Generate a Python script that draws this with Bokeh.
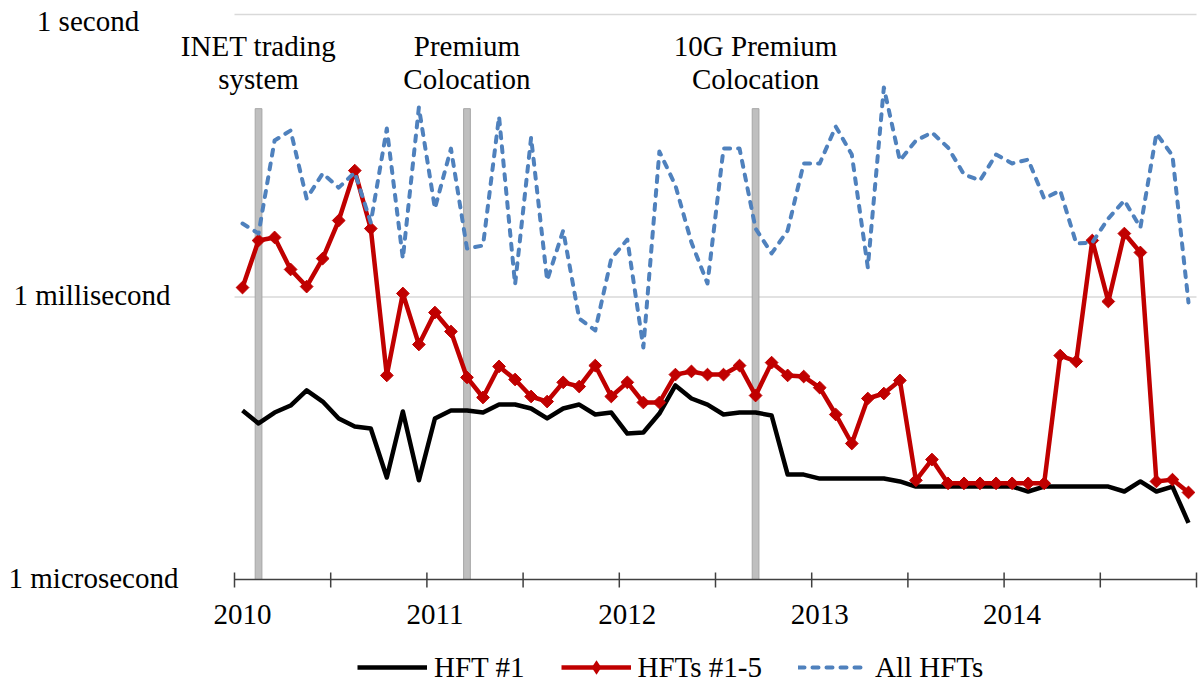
import numpy as np
from bokeh.plotting import figure
from bokeh.models import Range1d, Legend, LegendItem, ColumnDataSource
from bokeh.core.properties import value
from bokeh.embed import file_html
from bokeh.resources import INLINE

# ---------------- data (latency, microseconds; one value per month Jan 2010 .. Dec 2014)
year_labels = ["2010", "2011", "2012", "2013", "2014"]

hft1 = [62.3, 45.4, 59.3, 70.4, 102, 77.6, 51.3, 42.2, 40.1, 12.1,
        60.8, 11.3, 51.3, 62.3, 62.3, 59.3, 72.1, 72.1, 65.5, 51.3,
        65.5, 72.1, 56.5, 59.3, 35.5, 36.4, 57.9, 115, 83.6, 72.1,
        56.5, 59.3, 59.3, 55.2, 13.0, 13.0, 11.8, 11.8, 11.8, 11.8,
        11.8, 11.0, 9.7, 9.7, 9.7, 9.7, 9.7, 9.7, 9.7, 8.6,
        9.7, 9.7, 9.7, 9.7, 9.7, 8.6, 11.0, 8.6, 9.7, 4.0]

hft1_5 = [1260, 3980, 4290, 1960, 1290, 2560, 6490, 22000, 5330, 147,
          1090, 313, 684, 430, 140, 85.7, 183, 133, 87.8, 77.6,
          124, 112, 187, 87.8, 124, 75.8, 75.8, 150, 162, 150,
          150, 187, 89.9, 201, 147, 143, 109, 56.5, 27.8, 83.6,
          94.4, 130, 11.3, 18.8, 10.5, 10.5, 10.5, 10.5, 10.5, 10.5,
          10.5, 239, 207, 3980, 896, 4720, 2970, 11.0, 11.5, 8.4]

all_hfts = [6030, 4720, 45900, 58600, 11100, 20500, 14500, 21000, 6180, 61500,
            2560, 103000, 8710, 37700, 3270, 3520, 82600, 1360, 49400, 1500,
            5080, 591, 441, 2560, 4080, 291, 35100, 15300, 3790, 1390,
            37700, 37700, 5330, 2900, 5080, 26200, 26200, 64600, 32600, 2060,
            168000, 28100, 45900, 55800, 38700, 20000, 17300, 32600, 26200, 28800,
            11100, 13500, 3700, 3790, 6810, 10600, 5470, 54500, 31800, 875]

event_months = [1, 14, 32]              # Feb 2010, Mar 2011, Sep 2012
event_lines = [["INET trading", "system"],
               ["Premium", "Colocation"],
               ["10G Premium", "Colocation"]]
event_bar_top = 1e5                     # 0.1 second

y_tick_values = [1, 1e3, 1e6]
y_tick_labels = ["1 microsecond", "1 millisecond", "1 second"]
grid_values = [1e3, 1e6]

n = len(hft1)
x = [i + 0.5 for i in range(n)]

# ---------------- layout (pixel geometry of the plot area)
W, H = 1198, 683
PL, PT, PR, PB = 234, 14, 1196, 579     # plot area: left/top/right/bottom
PPM = (PR - PL) / 60.0                  # px per month
PPD = (PB - PT) / 6.0                   # px per decade
TXT_SHIFT = -11                         # renderer baseline correction


def xd(px):
    return (px - PL) / PPM


def yd(py):
    return 10 ** ((PB - py) / PPD)


def yt(py):
    return yd(py + TXT_SHIFT)


FONT = "Liberation Serif"
FS = "29px"
AXIS_COLOR = "#404040"
RED = "#C00000"

p = figure(width=W, height=H, output_backend="svg", toolbar_location=None,
           x_range=Range1d(xd(0), xd(W)), y_range=Range1d(yd(H), yd(0)),
           y_axis_type="log", x_axis_location=None, y_axis_location=None,
           min_border=0)
p.outline_line_color = None
p.xgrid.visible = False
p.ygrid.visible = False
p.background_fill_color = "white"
p.border_fill_color = "white"

# horizontal gridlines
p.segment(x0=[0] * len(grid_values), x1=[60] * len(grid_values),
          y0=grid_values, y1=grid_values, line_color="#D9D9D9", line_width=1.5)

# event bars (behind the series)
p.vbar(x=[m + 0.5 for m in event_months], width=0.42, bottom=y_tick_values[0],
       top=event_bar_top, fill_color="#BFBFBF", line_color="#A6A6A6", line_width=1)

# x axis line and half-year ticks
tick_x = [6 * k for k in range(11)]
p.segment(x0=[0], x1=[60], y0=[y_tick_values[0]], y1=[y_tick_values[0]],
          line_color=AXIS_COLOR, line_width=1.5)
p.segment(x0=tick_x, x1=tick_x, y0=[yd(PB - 7)] * len(tick_x),
          y1=[yd(PB + 8)] * len(tick_x), line_color=AXIS_COLOR, line_width=1.5)

# year labels
p.text(x=[12 * k + 0.5 for k in range(len(year_labels))],
       y=[yt(625)] * len(year_labels), text=year_labels,
       text_font=value(FONT), text_font_size=value(FS), text_color="black",
       text_align="center", text_baseline="alphabetic")

# y labels
p.text(x=[xd(93), xd(91.5), xd(87.5)], y=[yt(588), yt(305), yt(31)], text=y_tick_labels,
       text_font=value(FONT), text_font_size=value(FS), text_color="black",
       text_align="center", text_baseline="alphabetic")

# series
src = ColumnDataSource(dict(x=x, hft1=hft1, hft1_5=hft1_5, all_hfts=all_hfts))
r_black = p.line("x", "hft1", source=src, line_color="black", line_width=4.5,
                 line_join="round")
r_red = p.line("x", "hft1_5", source=src, line_color=RED, line_width=4.5,
               line_join="round")
r_red_pts = p.scatter("x", "hft1_5", source=src, marker="square", angle=np.pi / 4,
                      size=9, fill_color=RED, line_color=RED)
# legend key: a diamond of zero size in the plot (legend draws its own size)
r_red_key = p.scatter("x", "hft1_5", source=src, marker="diamond", size=0,
                      fill_color=RED, line_color=None)
r_blue = p.line("x", "all_hfts", source=src, line_color="#4F81BD", line_width=4,
                line_dash="6 8", line_cap="round", line_join="round")

# event labels
ev_x, ev_y, ev_t = [], [], []
for m, lines in zip(event_months, event_lines):
    for k, t in enumerate(lines):
        ev_x.append(m + 0.5)
        ev_y.append(yt([56, 89][k]))
        ev_t.append(t)
p.text(x=ev_x, y=ev_y, text=ev_t, text_font=value(FONT), text_font_size=value(FS),
       text_color="black", text_align="center", text_baseline="alphabetic")

legend = Legend(items=[LegendItem(label="HFT #1", renderers=[r_black]),
                       LegendItem(label="HFTs #1-5", renderers=[r_red, r_red_key]),
                       LegendItem(label="All HFTs", renderers=[r_blue])],
                location=(357, -2), orientation="horizontal",
                glyph_width=70, glyph_height=36, label_height=36,
                label_standoff=7, spacing=36, padding=0, margin=0,
                border_line_color=None, background_fill_alpha=0,
                label_text_font=FONT, label_text_font_size=FS,
                label_text_color="black")
p.add_layout(legend, "center")

open("out.html", "w").write(file_html(p, INLINE))
